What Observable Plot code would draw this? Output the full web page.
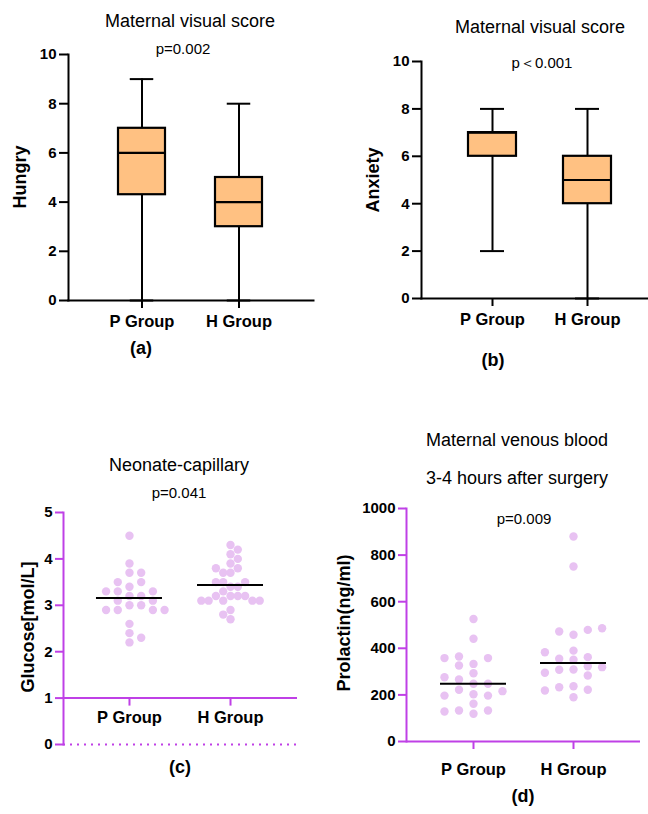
<!DOCTYPE html>
<html>
<head>
<meta charset="utf-8">
<script src="https://cdn.jsdelivr.net/npm/d3@7"></script>
<script src="https://cdn.jsdelivr.net/npm/@observablehq/plot@0.6"></script>
<style>
  html, body { margin: 0; padding: 0; background: #fff; }
  #root { position: relative; width: 648px; height: 814px; overflow: hidden; font-family: "Liberation Sans", Arial, sans-serif; color: #000; }
  .panel { position: absolute; }
  .panel svg { overflow: visible; }
  .panel svg text { font-weight: bold !important; }
  .t { position: absolute; white-space: nowrap; line-height: 1; transform: translate(-50%, -50%); }
  .title { font-size: 18px; }
  .pv { font-size: 15px; }
  .yl { font-size: 18px; font-weight: bold; transform: translate(-50%, -50%) rotate(-90deg); }
  .tag { font-size: 18px; font-weight: bold; }
</style>
</head>
<body>
<div id="root"></div>
<script>
// ---------------- data ----------------
const groups = ["P Group", "H Group"];

// (a) Hungry – box summaries
const hungryMin = [0, 0];
const hungryQ1 = [4.3, 3];
const hungryMedian = [6, 4];
const hungryQ3 = [7, 5];
const hungryMax = [9, 8];

// (b) Anxiety – box summaries
const anxietyMin = [2, 0];
const anxietyQ1 = [6, 4];
const anxietyMedian = [7, 5];
const anxietyQ3 = [7, 6];
const anxietyMax = [8, 8];

// (c) Neonate capillary glucose
const glucoseP = [4.5, 3.9, 3.7, 3.7, 3.5, 3.5, 3.4, 3.3, 3.3, 3.3, 3.2, 3.2, 3.1, 3.1, 3.0, 3.0, 2.9, 2.9, 2.9, 2.9, 2.6, 2.4, 2.3, 2.2];
const glucoseH = [4.3, 4.2, 4.1, 4.0, 3.9, 3.8, 3.8, 3.7, 3.7, 3.5, 3.5, 3.5, 3.4, 3.4, 3.3, 3.2, 3.2, 3.2, 3.2, 3.1, 3.1, 3.1, 3.1, 3.1, 2.9, 2.8, 2.7];

// (d) Prolactin
const prolactinP = [526, 441, 365, 358, 358, 333, 326, 293, 276, 266, 248, 248, 222, 216, 203, 197, 197, 162, 133, 133, 129, 119];
const prolactinH = [880, 751, 486, 479, 472, 458, 390, 383, 362, 355, 351, 323, 319, 309, 308, 295, 283, 237, 233, 222, 219, 190];

// ---------------- style ----------------
const FONT = "Liberation Sans, Arial, sans-serif";
const ORANGE = "#ffc182";
const PURPLE = "#bf40e6";
const DOT = "#e8c2f2";

const root = document.getElementById("root");

function place(node, left, top) {
  const div = document.createElement("div");
  div.className = "panel";
  div.style.left = left + "px";
  div.style.top = top + "px";
  div.appendChild(node);
  root.appendChild(div);
}
function text(str, cls, x, y) {
  const d = document.createElement("div");
  d.className = "t " + cls;
  d.textContent = str;
  d.style.left = x + "px";
  d.style.top = y + "px";
  root.appendChild(d);
}

// ---------------- box panels ----------------
function boxPanel({mins, q1s, meds, q3s, maxs, width, height, ml, mr, mt, mb, pin, pout, align, bw}) {
  const data = groups.map((g, i) => ({g, min: mins[i], q1: q1s[i], med: meds[i], q3: q3s[i], max: maxs[i]}));
  const capInset = bw * 0.25;
  return Plot.plot({
    width, height, marginLeft: ml, marginRight: mr, marginTop: mt, marginBottom: mb,
    style: {fontFamily: FONT, color: "black", background: "transparent", overflow: "visible"},
    x: {domain: groups, type: "band", paddingInner: pin, paddingOuter: pout, align, label: null},
    y: {domain: [0, 10], label: null},
    marks: [
      Plot.ruleX(data, {x: "g", y1: "min", y2: "q1", strokeWidth: 2}),
      Plot.ruleX(data, {x: "g", y1: "q3", y2: "max", strokeWidth: 2}),
      Plot.tickY(data, {x: "g", y: "min", strokeWidth: 2, insetLeft: capInset, insetRight: capInset}),
      Plot.tickY(data, {x: "g", y: "max", strokeWidth: 2, insetLeft: capInset, insetRight: capInset}),
      Plot.barY(data, {x: "g", y1: "q1", y2: "q3", fill: ORANGE, stroke: "black", strokeWidth: 2.2}),
      Plot.tickY(data, {x: "g", y: "med", strokeWidth: 2.2}),
      Plot.frame({anchor: "left", strokeWidth: 2}),
      Plot.frame({anchor: "bottom", strokeWidth: 2}),
      Plot.axisY({ticks: [0, 2, 4, 6, 8, 10], tickFormat: "d", tickSize: 9, tickPadding: 3, fontSize: 15, strokeWidth: 2, label: null}),
      Plot.axisX({tickSize: 8, tickPadding: 7, fontSize: 16.5, strokeWidth: 2, label: null})
    ]
  });
}

place(boxPanel({mins: hungryMin, q1s: hungryQ1, meds: hungryMedian, q3s: hungryQ3, maxs: hungryMax,
  width: 324, height: 312, ml: 68, mr: 11, mt: 24, mb: 42, pin: 0.515, pout: 0.52, align: 0.5, bw: 47}), 0, 30);

place(boxPanel({mins: anxietyMin, q1s: anxietyQ1, meds: anxietyMedian, q3s: anxietyQ3, maxs: anxietyMax,
  width: 324, height: 303, ml: 97, mr: 0, mt: 24, mb: 42, pin: 0.495, pout: 0.442, align: 0.56, bw: 48}), 324, 37);

// ---------------- scatter (dot-plot) panels ----------------
// Column scatter layout: each point takes the free slot nearest the centre, rows handled from the centre value outwards.
function swarm(values, slot, dmin, pxPerVal, centre) {
  const h = slot / 2;
  const idx = d3.range(values.length).sort((a, b) =>
    Math.abs(values[a] - centre) - Math.abs(values[b] - centre) || values[b] - values[a]);
  const placed = [];
  const off = new Array(values.length);
  let flip = 1;
  for (const i of idx) {
    const y = values[i] * pxPerVal;
    for (let t = 0; t < 400; t++) {
      const m = Math.ceil(t / 2) * (t % 2 ? -flip : flip);
      const x = m * h;
      if (placed.every(p => Math.hypot(p[0] - x, p[1] - y) >= dmin - 0.01)) {
        off[i] = x; placed.push([x, y]); break;
      }
    }
    flip = -flip;
  }
  return off;
}

function dotPanel({series, yDomain, yTicks, width, height, ml, mr, mt, mb, xDomain, slots, dmins, center, axisAt, dotted, xTickPad}) {
  const pxX = (width - ml - mr) / (xDomain[1] - xDomain[0]);
  const pxY = (height - mt - mb) / (yDomain[1] - yDomain[0]);
  const pts = [];
  const lines = [];
  series.forEach((vals, gi) => {
    const c = center(vals);
    const off = swarm(vals, slots[gi], dmins[gi], pxY, d3.median(vals));
    vals.forEach((v, i) => pts.push({gi, v, x: gi + off[i] / pxX}));
    lines.push({gi, v: c});
  });
  const half = 33 / pxX;
  const axisDy = -(axisAt - yDomain[0]) * pxY;
  return Plot.plot({
    width, height, marginLeft: ml, marginRight: mr, marginTop: mt, marginBottom: mb,
    style: {fontFamily: FONT, color: "black", background: "transparent", overflow: "visible"},
    x: {domain: xDomain, label: null},
    y: {domain: yDomain, label: null},
    marks: [
      dotted ? Plot.ruleY([yDomain[0]], {stroke: PURPLE, strokeWidth: 2, strokeDasharray: "2,5"}) : null,
      Plot.ruleY([axisAt], {stroke: PURPLE, strokeWidth: 2}),
      Plot.frame({anchor: "left", stroke: PURPLE, strokeWidth: 2}),
      Plot.dot(pts, {x: "x", y: "v", r: 4.2, fill: DOT, stroke: "none"}),
      Plot.ruleY(lines, {y: "v", x1: d => d.gi - half, x2: d => d.gi + half, stroke: "black", strokeWidth: 2}),
      Plot.axisY({ticks: yTicks, tickFormat: "d", tickSize: 8, tickPadding: 3, fontSize: 15, stroke: PURPLE, fill: "black", strokeWidth: 2, label: null}),
      Plot.axisX({ticks: [0, 1], tickFormat: i => groups[i], tickSize: 8, tickPadding: xTickPad, fontSize: 16.5,
        stroke: PURPLE, fill: "black", strokeWidth: 2, dy: axisDy, label: null})
    ]
  });
}

place(dotPanel({series: [glucoseP, glucoseH], yDomain: [0, 5], yTicks: [0, 1, 2, 3, 4, 5],
  width: 324, height: 266, ml: 63, mr: 27, mt: 22, mb: 12, xDomain: [-0.653, 1.663],
  slots: [11.7, 7.3], dmins: [8.3, 7.3], center: d3.mean, axisAt: 1, dotted: true, xTickPad: 5}), 0, 490);

place(dotPanel({series: [prolactinP, prolactinH], yDomain: [0, 1000], yTicks: [0, 200, 400, 600, 800, 1000],
  width: 324, height: 296, ml: 82, mr: 8, mt: 13, mb: 50, xDomain: [-0.67, 1.67],
  slots: [29, 28.6], dmins: [8.6, 8.6], center: d3.median, axisAt: 0, dotted: false, xTickPad: 14}), 324, 495);

// ---------------- texts ----------------
text("Maternal visual score", "title", 190, 21);
text("p=0.002", "pv", 183, 48);
text("Hungry", "yl", 20, 177);
text("(a)", "tag", 141, 348);

text("Maternal visual score", "title", 540, 27);
text("p\uFF1C0.001", "pv", 542, 62);
text("Anxiety", "yl", 373, 180);
text("(b)", "tag", 493, 360);

text("Neonate-capillary", "title", 179, 465);
text("p=0.041", "pv", 179, 492);
text("Glucose[mol/L]", "yl", 28, 627);
text("(c)", "tag", 180, 767);

text("Maternal venous blood", "title", 517, 440);
text("3-4 hours after surgery", "title", 517, 478);
text("p=0.009", "pv", 524, 518);
text("Prolactin(ng/ml)", "yl", 344, 623);
text("(d)", "tag", 523, 796);
</script>
</body>
</html>
